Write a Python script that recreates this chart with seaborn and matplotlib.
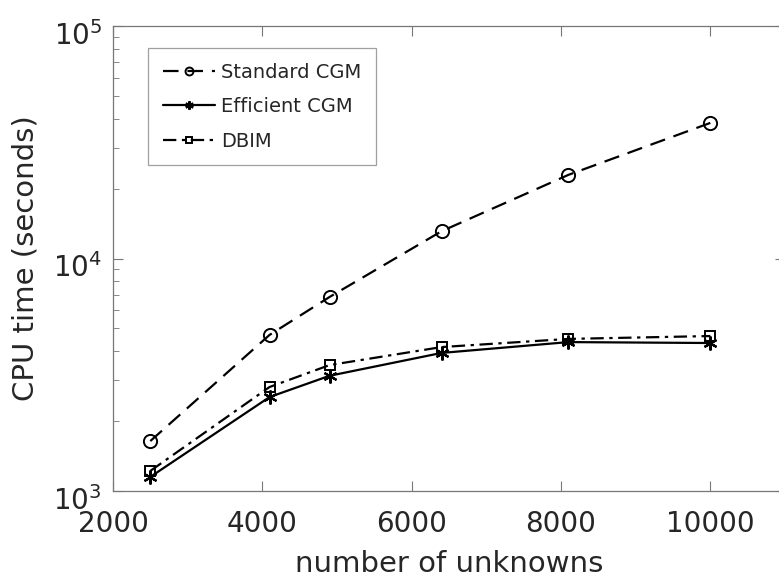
import matplotlib
matplotlib.use("Agg")
import matplotlib.pyplot as plt
import matplotlib.transforms as mtransforms
import seaborn as sns
import pandas as pd
import numpy as np
from matplotlib.ticker import LogLocator, NullFormatter

unknowns = [2500, 4096, 4900, 6400, 8100, 10000]
standard_cgm = [1640, 4690, 6830, 13100, 22900, 38300]
efficient_cgm = [1150, 2535, 3130, 3925, 4370, 4330]
dbim = [1220, 2800, 3480, 4160, 4510, 4640]

sns.set_theme(style="white")
plt.rcParams['font.family'] = ['DejaVu Sans']

fig = plt.figure(figsize=(7.79, 5.83), dpi=100)
# axes extends beyond right edge (cropped like reference)
ax = fig.add_axes([113/779, 1 - 491/583, (785-113)/779, (491-26)/583])

tc = '#262626'
asterisk = (6, 2, 0)
sns.lineplot(x=unknowns, y=standard_cgm, ax=ax, color='black', marker='o', markersize=9.5,
             markerfacecolor='none', markeredgecolor='black', markeredgewidth=1.4,
             linewidth=1.6, label='Standard CGM')
ax.lines[-1].set_dashes([7, 4])
sns.lineplot(x=unknowns, y=efficient_cgm, ax=ax, color='black', marker=asterisk, markersize=10,
             markeredgecolor='black', markeredgewidth=1.6, linewidth=1.6, label='Efficient CGM')
sns.lineplot(x=unknowns, y=dbim, ax=ax, color='black', marker='s', markersize=7.5,
             markerfacecolor='none', markeredgecolor='black', markeredgewidth=1.4,
             linewidth=1.6, label='DBIM')
ax.lines[-1].set_dashes([6, 2.5, 1.5, 2.5])

ax.set_yscale('log')
ax.set_xlim(2000, 11000)
ax.set_ylim(1e3, 1e5)
ax.set_xticks([2000, 4000, 6000, 8000, 10000])
ax.yaxis.set_major_locator(LogLocator(base=10, numticks=10))
ax.yaxis.set_minor_locator(LogLocator(base=10, subs=np.arange(2, 10), numticks=20))
ax.yaxis.set_minor_formatter(NullFormatter())
ax.set_xlabel('number of unknowns', fontsize=21, color=tc, labelpad=8)
ax.set_ylabel('CPU time (seconds)', fontsize=21, color=tc, labelpad=10)
ax.tick_params(axis='both', which='both', direction='in', top=True, right=True,
               bottom=True, left=True,
               colors='#777777', labelcolor=tc, labelsize=20)
ax.tick_params(axis='x', which='major', pad=14)
ax.tick_params(axis='y', which='major', pad=8)
ax.tick_params(which='major', length=7, width=0.8)
ax.tick_params(which='minor', length=4, width=0.6)
for s in ax.spines.values():
    s.set_color('#777777')
    s.set_linewidth(0.9)

# shift y tick labels slightly downward like the reference
offset = mtransforms.ScaledTranslation(0, -7/100, fig.dpi_scale_trans)
for lbl in ax.get_yticklabels():
    lbl.set_transform(lbl.get_transform() + offset)

leg = ax.legend(loc='upper left', bbox_to_anchor=(148/779, 1 - 48/583), bbox_transform=fig.transFigure,
                fontsize=14, frameon=True, fancybox=False, handlelength=2.7,
                borderpad=0.75, labelspacing=0.8, handletextpad=0.3, borderaxespad=0,
                markerscale=0.6)
leg.get_frame().set_edgecolor('#888888')
leg.get_frame().set_linewidth(0.9)
for t in leg.get_texts():
    t.set_color(tc)

fig.savefig('out.png', dpi=100)
